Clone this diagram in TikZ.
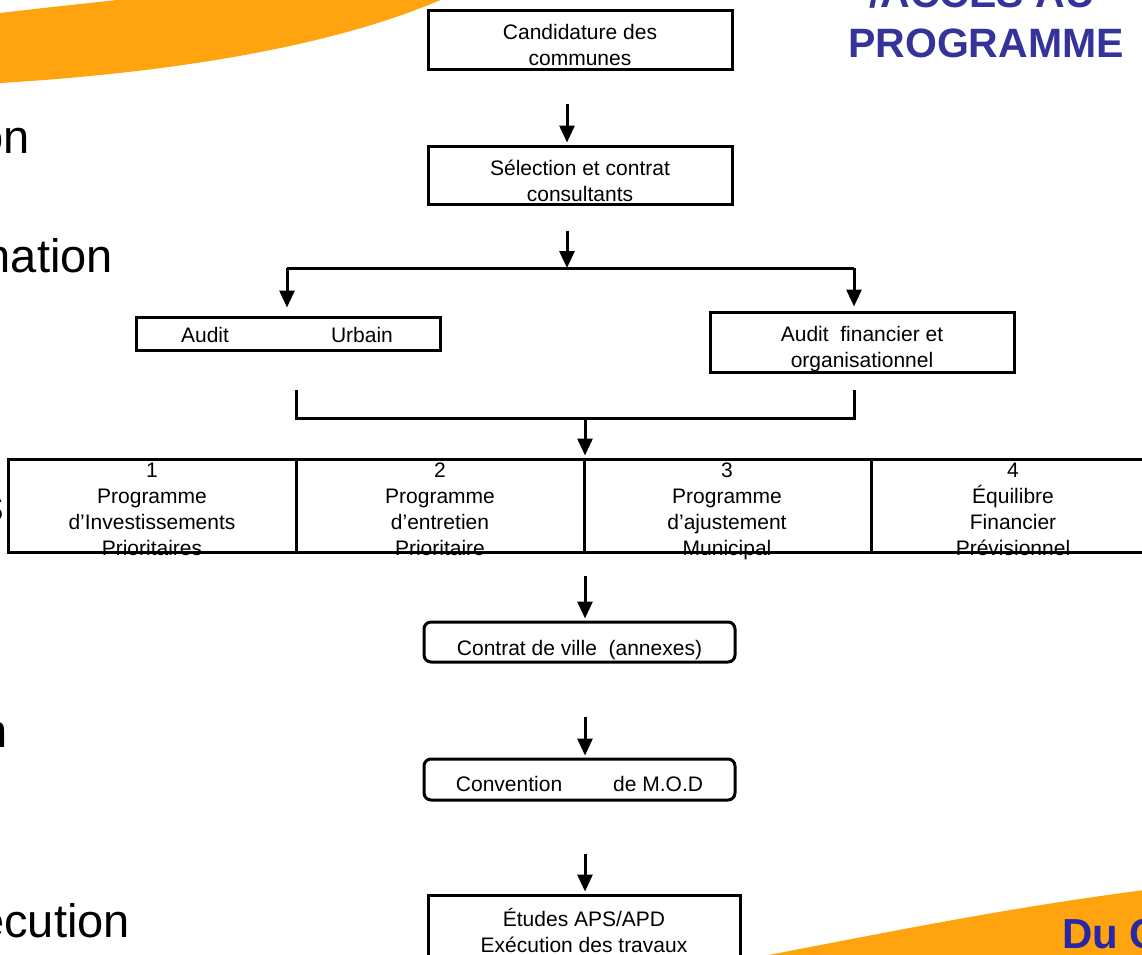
\documentclass[tikz,border=0pt]{standalone}
\usepackage{fontspec}
\setmainfont{Liberation Sans}
\usetikzlibrary{arrows.meta}
\definecolor{orng}{RGB}{255,163,15}
\definecolor{ttl}{RGB}{51,51,153}
\definecolor{dub}{RGB}{40,40,165}
\begin{document}
\begin{tikzpicture}[x=1pt,y=-1pt,
  box/.style={draw=black, fill=white, line width=3pt, inner sep=0pt},
  rbox/.style={box, rounded corners=7pt},
  lbl/.style={font=\fontsize{21}{26}\selectfont, align=center, inner sep=0pt, text depth=0pt},
  arr/.style={line width=3pt, -{Triangle[width=15pt,length=17pt]}},
  ln/.style={line width=3pt},
  big/.style={font=\fontsize{47}{56}\selectfont, anchor=base east, inner sep=0pt},
  ttlstyle/.style={font=\bfseries\fontsize{41}{41}\selectfont, text=ttl, anchor=base, inner sep=0pt}]
\useasboundingbox (0,0) rectangle (1142,954);
\clip (0,0) rectangle (1142,954);
% background swooshes
\fill[orng] (0,83) .. controls (200,71) and (350,40) .. (445,-2) -- (135,-2) .. controls (100,2) and (50,7) .. (0,13) -- cycle;
\fill[orng] (763,956) .. controls (900,930) and (1000,909) .. (1144,890) -- (1144,956) -- cycle;
\node[font=\bfseries\fontsize{42}{42}\selectfont, text=dub, anchor=base west, inner sep=0pt] (du) at (1062,948) {Du C};
% title
\node[ttlstyle] (t1) at (982,7) {/ACCES AU};
\node[ttlstyle] (t2) at (986,57) {PROGRAMME};
% left fragments
\node[big] (f1) at (30,153) {on};
\node[big] (f2) at (113,272) {nation};
\node[big] (f3) at (4,521) {s};
\node[big] (f4) at (8,747) {n};
\node[big] (f5) at (130,937) {ecution};
% boxes
\node[box, minimum width=304pt, minimum height=59pt] (cand) at (580,39.5) {};
\node[lbl] (candt) at (580,45) {Candidature des\\communes};
\node[box, minimum width=304pt, minimum height=58pt] (sel) at (580,175) {};
\node[lbl] (selt) at (580,181) {Sélection et contrat\\consultants};
\node[box, minimum width=304pt, minimum height=33pt] (au) at (288,333.5) {};
\node[lbl] (aut) at (287,335) {Audit\hspace{102pt}Urbain};
\node[box, minimum width=304pt, minimum height=60pt] (af) at (862,342) {};
\node[lbl] (aft) at (862,347) {Audit\ \ financier et\\organisationnel};
% row of four
\node[box, minimum width=288pt, minimum height=93pt] (p1) at (152,505.5) {};
\node[box, minimum width=288pt, minimum height=93pt] (p2) at (440,505.5) {};
\node[box, minimum width=287pt, minimum height=93pt] (p3) at (727.5,505.5) {};
\node[box, minimum width=284pt, minimum height=93pt] (p4) at (1013,505.5) {};
\node[lbl] (p1t) at (152,509) {1\\Programme\\d’Investissements\\Prioritaires};
\node[lbl] (p2t) at (440,509) {2\\Programme\\d’entretien\\Prioritaire};
\node[lbl] (p3t) at (727,509) {3\\Programme\\d’ajustement\\Municipal};
\node[lbl] (p4t) at (1013,509) {4\\Équilibre\\Financier\\Prévisionnel};
% lower boxes
\node[rbox, minimum width=311pt, minimum height=40pt] (cv) at (579.5,642) {};
\node[lbl] (cvt) at (579.5,648) {Contrat de ville\ \ (annexes)};
\node[rbox, minimum width=311pt, minimum height=41pt] (mod) at (579.5,779.5) {};
\node[lbl] (modt) at (579.5,784) {Convention\hspace{51pt}de M.O.D};
\node[box, minimum width=312pt, minimum height=70pt] (et) at (584,930) {};
\node[lbl] (ett) at (584,930) {Études APS/APD\\Exécution des travaux};
% connectors
\draw[arr] ([xshift=-13pt,yshift=-33pt]cand.south) -- ([xshift=-13pt,yshift=2pt]sel.north);
\coordinate (split) at (567,268);
\coordinate (sl) at (287,268);
\coordinate (sr) at (854,268);
\draw[arr] ([xshift=-13pt,yshift=-25pt]sel.south) -- (split);
\draw[ln] (sl) -- (sr);
\draw[arr, shorten >=8pt] (sl) -- (sl |- au.north);
\draw[arr, shorten >=4pt] (sr) -- (sr |- af.north);
\coordinate (jl) at (296,418);
\coordinate (jr) at (854,418);
\coordinate (jm) at (585,418);
\draw[ln] ([yshift=28pt]jl) -- (jl) -- (jr) -- ([yshift=28pt]jr);
\draw[arr, shorten >=2pt] (jm) -- (jm |- p3.north);
\draw[arr] ([xshift=5.5pt,yshift=45pt]cv.north) -- ([xshift=5.5pt,yshift=2pt]cv.north);
\draw[arr] ([xshift=5.5pt,yshift=-53pt]cv.south) -- ([xshift=5.5pt,yshift=2pt]mod.north);
\draw[arr] ([xshift=5.5pt,yshift=-52pt]mod.south) -- ([xshift=1pt,yshift=2pt]et.north);
\end{tikzpicture}
\end{document}
